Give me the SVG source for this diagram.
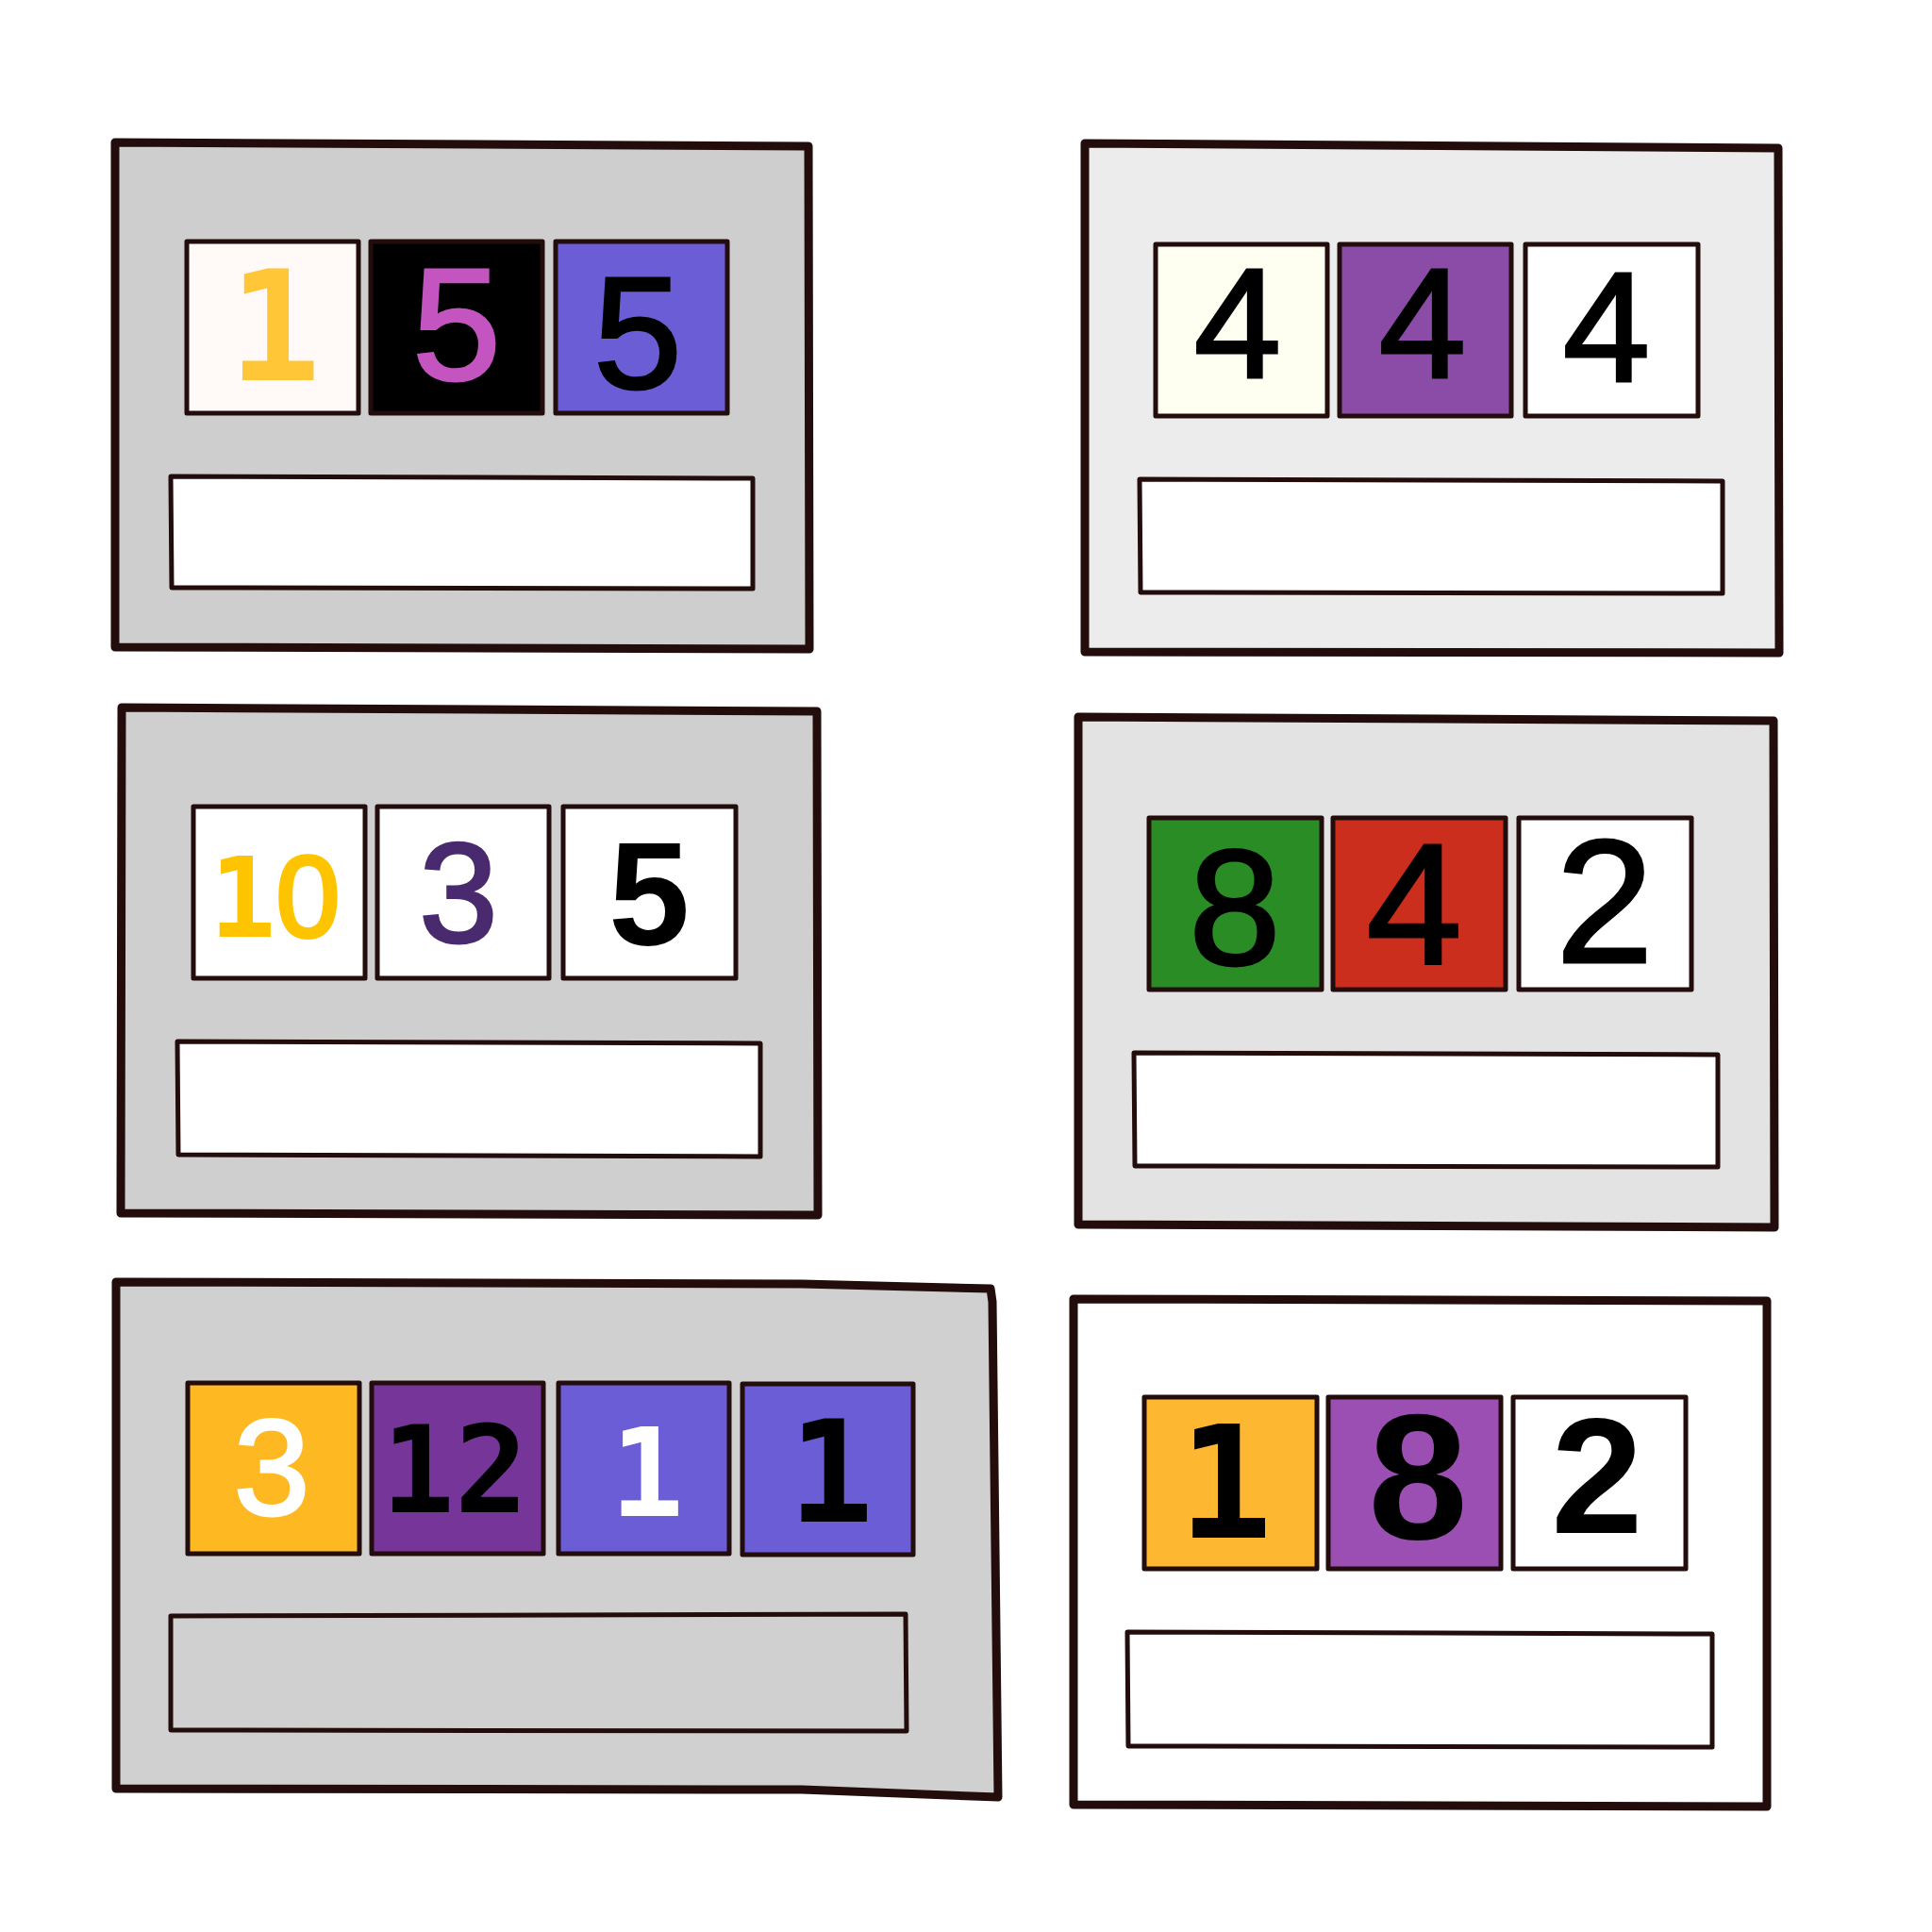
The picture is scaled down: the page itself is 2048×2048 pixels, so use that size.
<svg xmlns="http://www.w3.org/2000/svg" width="2048" height="2048" viewBox="0 0 2048 2048">
<style>
.outer{stroke:#220c0c;stroke-width:9;stroke-linejoin:round;stroke-linecap:round}
.tile{stroke:#220c0c;stroke-width:5;stroke-linejoin:round}
.box{stroke:#220c0c;stroke-width:5;stroke-linejoin:round}
.sans{font-family:"Liberation Sans",Arial,sans-serif;text-anchor:middle}
.med{stroke-width:3;stroke-linejoin:miter}
.mono{font-family:"DejaVu Sans Mono",monospace;text-anchor:middle;font-weight:bold}
</style>
<rect width="2048" height="2048" fill="#ffffff"/>
<g id="panel1">
<polygon class="outer" fill="#cecece" points="122,151 857,155 858,688 122,686"/>
<polygon class="tile" fill="#fff9f8" points="198,256 380,256 380,438 198,438"/>
<polygon class="tile" fill="#000000" points="393,256 575,256 575,438 393,438"/>
<polygon class="tile" fill="#6b5dd6" points="589,256 771,256 771,438 589,438"/>
<text class="mono" x="291" y="403" font-size="163" fill="#ffc637">1</text>
<text class="sans med" x="484" y="402" font-size="169" fill="#c455c0" stroke="#c455c0">5</text>
<text class="sans med" x="676" y="411" font-size="169" fill="#000000" stroke="#000000">5</text>
<polygon class="box" fill="#ffffff" points="181,505 798,507 798,624 182,623"/>
</g>
<g id="panel2">
<polygon class="outer" fill="#ececec" points="1150,152 1885,157 1886,692 1150,691"/>
<polygon class="tile" fill="#fefff0" points="1225,259 1407,259 1407,441 1225,441"/>
<polygon class="tile" fill="#8b4ca8" points="1420,259 1602,259 1602,441 1420,441"/>
<polygon class="tile" fill="#ffffff" points="1617,259 1800,259 1800,441 1617,441"/>
<text class="sans med" x="1312" y="400" font-size="166" fill="#000000" stroke="#000000">4</text>
<text class="sans med" x="1508" y="400" font-size="166" fill="#000000" stroke="#000000">4</text>
<text class="sans med" x="1703" y="404" font-size="166" fill="#000000" stroke="#000000">4</text>
<polygon class="box" fill="#ffffff" points="1208,508 1826,510 1826,629 1209,628"/>
</g>
<g id="panel3">
<polygon class="outer" fill="#cfcfcf" points="129,750 866,754 867,1288 128,1286"/>
<polygon class="tile" fill="#ffffff" points="205,855 387,855 387,1037 205,1037"/>
<polygon class="tile" fill="#ffffff" points="400,855 582,855 582,1037 400,1037"/>
<polygon class="tile" fill="#ffffff" points="597,855 780,855 780,1037 597,1037"/>
<text x="222" y="993" font-size="117" fill="#ffc400" font-family="DejaVu Sans Mono, monospace" font-weight="bold">1<tspan font-family="Liberation Sans, Arial, sans-serif" font-size="122" font-weight="normal" stroke="#ffc400" stroke-width="4">0</tspan></text>
<text class="sans med" x="486" y="999" font-size="150" fill="#4a2a6e" stroke="#4a2a6e" stroke-width="5">3</text>
<text class="sans" x="688" y="1001" font-size="155" font-weight="bold" fill="#000000">5</text>
<polygon class="box" fill="#ffffff" points="188,1104 806,1106 806,1226 189,1224"/>
</g>
<g id="panel4">
<polygon class="outer" fill="#e3e3e3" points="1143,760 1880,764 1881,1301 1143,1298"/>
<polygon class="tile" fill="#2a8c25" points="1218,867 1401,867 1401,1049 1218,1049"/>
<polygon class="tile" fill="#cc2e1e" points="1413,867 1596,867 1596,1049 1413,1049"/>
<polygon class="tile" fill="#ffffff" points="1610,867 1793,867 1793,1049 1610,1049"/>
<text class="sans med" x="1309" y="1022" font-size="175" fill="#000000" stroke="#000000">8</text>
<text class="sans med" x="1499" y="1021" font-size="182" fill="#000000" stroke="#000000">4</text>
<text class="sans med" x="1701" y="1020" font-size="186" fill="#000000" stroke="#000000">2</text>
<polygon class="box" fill="#ffffff" points="1202,1116 1821,1118 1821,1237 1203,1236"/>
</g>
<g id="panel5">
<polygon class="outer" fill="#d0d0d0" points="123,1359 850,1361 1050,1366 1052,1380 1058,1905 850,1897 123,1896"/>
<polygon class="tile" fill="#fdb822" points="199,1466 381,1466 381,1647 199,1647"/>
<polygon class="tile" fill="#763699" points="394,1466 576,1466 576,1647 394,1647"/>
<polygon class="tile" fill="#6b5dd6" points="592,1466 773,1466 773,1647 592,1647"/>
<polygon class="tile" fill="#6b5dd6" stroke-width="7" stroke="#0a0505" points="787,1467 968,1467 968,1648 787,1648"/>
<text class="sans med" x="288" y="1606" font-size="145" fill="#ffffff" stroke="#ffffff" stroke-width="5">3</text>
<text class="mono" x="482" y="1603" font-size="129" fill="#000000">12</text>
<text class="mono" x="686" y="1607" font-size="130" fill="#ffffff">1</text>
<text class="mono" x="881" y="1613" font-size="150" fill="#000000">1</text>
<polygon class="box" fill="#d0d0d0" points="181,1713 960,1711 961,1835 181,1834"/>
</g>
<g id="panel6">
<polygon class="outer" fill="#ffffff" points="1138,1377 1873,1379 1873,1915 1138,1913"/>
<polygon class="tile" fill="#fdb731" points="1213,1481 1396,1481 1396,1663 1213,1663"/>
<polygon class="tile" fill="#9c4fb3" points="1408,1481 1591,1481 1591,1663 1408,1663"/>
<polygon class="tile" fill="#ffffff" points="1604,1481 1787,1481 1787,1663 1604,1663"/>
<text class="mono" x="1299" y="1630" font-size="166" fill="#000000">1</text>
<text class="sans" x="1503" y="1631" font-size="190" font-weight="bold" fill="#000000">8</text>
<text class="sans" x="1693" y="1625" font-size="175" font-weight="bold" fill="#000000">2</text>
<polygon class="box" fill="#ffffff" points="1195,1730 1815,1732 1815,1852 1196,1851"/>
</g>
<g id="connectors"></g>
</svg>
